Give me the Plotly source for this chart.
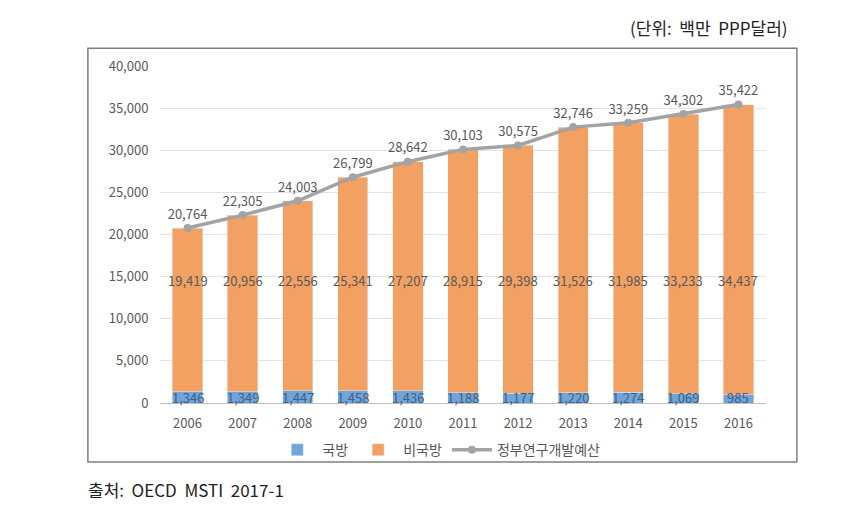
import plotly.graph_objects as go

years = ["2006", "2007", "2008", "2009", "2010", "2011", "2012", "2013", "2014", "2015", "2016"]
defense = [1346, 1349, 1447, 1458, 1436, 1188, 1177, 1220, 1274, 1069, 985]
nondefense = [19419, 20956, 22556, 25341, 27207, 28915, 29398, 31526, 31985, 33233, 34437]
total = [20764, 22305, 24003, 26799, 28642, 30103, 30575, 32746, 33259, 34302, 35422]
y_ticks = [0, 5000, 10000, 15000, 20000, 25000, 30000, 35000, 40000]

FONT = "Noto Sans CJK KR"
GRAY_TXT = "#595959"

fig = go.Figure()
fig.add_trace(go.Bar(x=years, y=defense, name="국방", marker=dict(color="#6FA5DA"),
                     hoverinfo="y"))
fig.add_trace(go.Bar(x=years, y=nondefense, name="비국방", marker=dict(color="#F2A163"),
                     hoverinfo="y"))
fig.add_trace(go.Scatter(x=years, y=total, name="정부연구개발예산", mode="lines+markers+text",
                         line=dict(color="#A3A3A3", width=3.5),
                         marker=dict(color="#A3A3A3", size=8),
                         text=[f"{v:,}" for v in total], textposition="top center",
                         textfont=dict(size=13, color=GRAY_TXT, family=FONT)))

annotations = []
for i, v in enumerate(nondefense):
    annotations.append(dict(x=i, y=14500, text=f"{v:,}", showarrow=False,
                            font=dict(size=13, color=GRAY_TXT, family=FONT)))
for i, v in enumerate(defense):
    annotations.append(dict(x=i, y=700, text=f"{v:,}", showarrow=False,
                            font=dict(size=13, color="#44607F", family=FONT)))
annotations.append(dict(xref="paper", yref="paper", x=1.04, y=1.113, xanchor="right",
                        yanchor="middle", text="(단위:&nbsp; 백만&nbsp; PPP달러)", showarrow=False,
                        font=dict(size=17, color="#222222", family=FONT)))
annotations.append(dict(xref="paper", yref="paper", x=-0.122, y=-0.258, xanchor="left",
                        yanchor="middle", text="출처:&nbsp; OECD&nbsp; MSTI&nbsp; 2017-1", showarrow=False,
                        font=dict(size=17, color="#222222", family=FONT)))

fig.update_layout(
    width=858, height=518,
    margin=dict(l=160, r=92, t=66, b=115),
    barmode="stack", bargap=0.45,
    plot_bgcolor="white", paper_bgcolor="white",
    font=dict(family=FONT, color=GRAY_TXT, size=12),
    showlegend=True,
    legend=dict(orientation="h", x=0.46, xanchor="center", y=-0.14, yanchor="middle",
                bgcolor="rgba(0,0,0,0)", itemwidth=40,
                font=dict(size=14, color=GRAY_TXT, family=FONT), traceorder="normal"),
    xaxis=dict(type="category", range=[-0.5, len(years) - 0.5], showgrid=False,
               showline=True, linecolor="#BFBFBF", linewidth=1,
               ticks="outside", ticklen=8, tickcolor="rgba(0,0,0,0)",
               tickfont=dict(size=13, color=GRAY_TXT)),
    yaxis=dict(range=[0, 40000], tickvals=y_ticks, tickformat=",", showgrid=True,
               gridcolor="#E3E3E3", zeroline=False, showline=False, ticks="outside",
               ticklen=8, tickcolor="rgba(0,0,0,0)",
               tickfont=dict(size=13, color=GRAY_TXT)),
    annotations=annotations,
    shapes=[dict(type="rect", xref="paper", yref="paper", x0=-0.119, x1=1.051,
                 y0=-0.175, y1=1.053, line=dict(color="#7F7F7F", width=1.5),
                 fillcolor="rgba(0,0,0,0)", layer="below")],
)

fig.write_html("out.html")
